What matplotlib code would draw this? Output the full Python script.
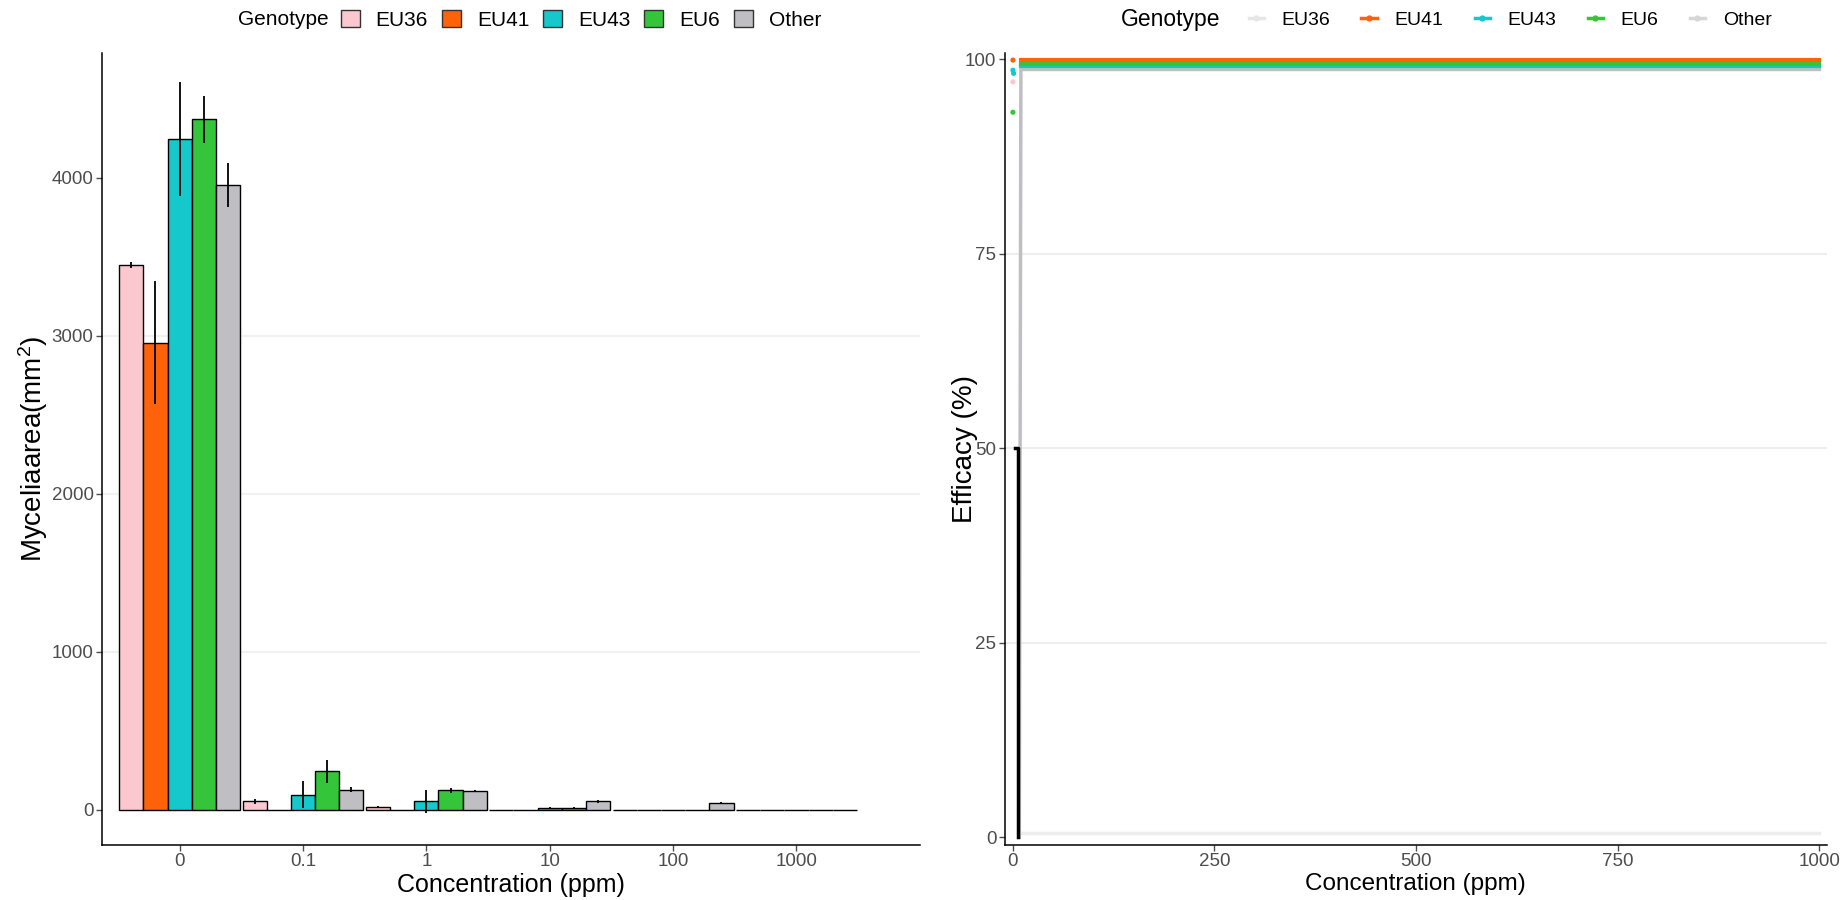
import numpy as np
import matplotlib
matplotlib.use("Agg")
import matplotlib.pyplot as plt
from matplotlib.patches import Patch
from matplotlib.lines import Line2D

plt.rcParams['font.family'] = ['Liberation Sans', 'DejaVu Sans']
plt.rcParams['mathtext.fontset'] = 'custom'
plt.rcParams['mathtext.rm'] = 'Liberation Sans'
plt.rcParams['mathtext.it'] = 'Liberation Sans'

# mycelial area per genotype at each concentration
genotypes = ['EU36', 'EU41', 'EU43', 'EU6', 'Other']
colors = ['#FAC8CE', '#FF6208', '#14C8CC', '#34C53A', '#BFBFC3']
conc_labels = ['0', '0.1', '1', '10', '100', '1000']

area_mean = {
    'EU36':  [3447, 52, 17, 0, 0, 0],
    'EU41':  [2956, 0, 0, 0, 0, 0],
    'EU43':  [4245, 95, 52, 10, 0, 0],
    'EU6':   [4370, 242, 122, 10, 0, 0],
    'Other': [3954, 127, 116, 52, 42, 0],
}
area_err = {
    'EU36':  [20, 15, 5, 0, 0, 0],
    'EU41':  [390, 0, 0, 0, 0, 0],
    'EU43':  [360, 85, 75, 5, 0, 0],
    'EU6':   [150, 75, 15, 5, 0, 0],
    'Other': [140, 15, 5, 8, 5, 0],
}

# efficacy lines and single observations
line_conc = [10, 100, 1000]
eff_line = {
    'EU36':  [0.5, 0.5, 0.5],
    'EU41':  [99.9, 99.9, 99.9],
    'EU43':  [99.2, 99.2, 99.2],
    'EU6':   [99.4, 99.4, 99.4],
}
other_conc = [8, 10, 100, 1000]
other_eff = [0, 98.7, 98.7, 98.7]
point_conc = [0.1, 0.1, 1, 0.1, 0.1]
point_eff = [99.9, 98.6, 98.2, 97.1, 93.2]
point_geno = ['EU41', 'EU43', 'EU43', 'EU36', 'EU6']
ec50_conc = [3, 6, 6]
ec50_eff = [50, 50, 0]

col = dict(zip(genotypes, colors))
tick_col = '#4D4D4D'

fig = plt.figure(figsize=(18.47, 9.0), dpi=100)
ax1 = fig.add_axes([0.0552, 0.061, 0.4428, 0.880])
ax2 = fig.add_axes([0.544, 0.061, 0.445, 0.880])

# left: grouped bars
x = np.arange(len(conc_labels))
w = 0.196
for i, g in enumerate(genotypes):
    xs = x + (i - 2) * w
    ax1.bar(xs, area_mean[g], width=w, color=col[g], edgecolor='black',
            linewidth=1.0, zorder=2)
    ax1.errorbar(xs, area_mean[g], yerr=area_err[g], fmt='none',
                 ecolor='black', elinewidth=1.3, capsize=0, zorder=3)

for yv in [1000, 2000, 3000]:
    ax1.axhline(yv, color='#F1F1F1', lw=1.5, zorder=0)

ax1.set_xlim(-0.63, 6.0)
ax1.set_ylim(-225, 4790)
ax1.set_xticks(x)
ax1.set_xticklabels(conc_labels)
ax1.set_yticks([0, 1000, 2000, 3000, 4000])
ax1.set_xlabel('Concentration (ppm)', fontsize=18, labelpad=2)
ax1.set_ylabel(r'Myceliaarea(mm$^{2}$)', fontsize=20, labelpad=1)

# right: efficacy curves
for yv in [25, 50, 75]:
    ax2.axhline(yv, color='#EEEEEE', lw=1.5, zorder=0)
for g in ['EU36', 'Other', 'EU43', 'EU6', 'EU41']:
    if g == 'Other':
        ax2.plot(other_conc, other_eff, color=col[g], lw=2.5, zorder=2)
    elif g == 'EU36':
        ax2.plot(line_conc, eff_line[g], color='#EDEDED', lw=2.5, zorder=1)
    else:
        ax2.plot(line_conc, eff_line[g], color=col[g], lw=3, zorder=2)
ax2.plot(ec50_conc, ec50_eff, color='black', lw=2.5, zorder=3)
ax2.scatter(point_conc, point_eff, c=[col[g] for g in point_geno], s=14,
            zorder=4, linewidths=0)

ax2.set_xlim(-10, 1009)
ax2.set_ylim(-1, 100.8)
ax2.set_xticks([0, 250, 500, 750, 1000])
ax2.set_yticks([0, 25, 50, 75, 100])
ax2.set_xlabel('Concentration (ppm)', fontsize=17.5, labelpad=2)
ax2.set_ylabel('Efficacy (%)', fontsize=20, labelpad=-9)

for ax in (ax1, ax2):
    for s in ['top', 'right']:
        ax.spines[s].set_visible(False)
    for s in ['left', 'bottom']:
        ax.spines[s].set_linewidth(1.1)
    ax.tick_params(axis='both', labelsize=13.5, labelcolor=tick_col,
                   color=tick_col, length=4, width=1, pad=2)

# legends along the top
fig.text(0.129, 0.978, 'Genotype', fontsize=15, va='center', ha='left')
bar_handles = [Patch(facecolor=col[g], edgecolor='#333333', linewidth=1)
               for g in genotypes]
fig.legend(bar_handles, genotypes, loc='center left',
           bbox_to_anchor=(0.1846, 0.978), ncol=5, frameon=False,
           fontsize=15, handlelength=0.92, handleheight=0.92,
           handletextpad=0.75, columnspacing=0.67, borderpad=0,
           borderaxespad=0)

fig.text(0.607, 0.978, 'Genotype', fontsize=16.5, va='center', ha='left')
line_cols = ['#E6E6E6', col['EU41'], col['EU43'], col['EU6'], '#D6D6D6']
line_handles = [Line2D([0], [0], color=c, lw=2.5, marker='o', markersize=3.5)
                for c in line_cols]
fig.legend(line_handles, genotypes, loc='center left',
           bbox_to_anchor=(0.676, 0.978), ncol=5, frameon=False,
           fontsize=14, handlelength=0.8, handletextpad=0.9,
           columnspacing=1.6, borderpad=0, borderaxespad=0)

fig.savefig('out.png', dpi=100)
